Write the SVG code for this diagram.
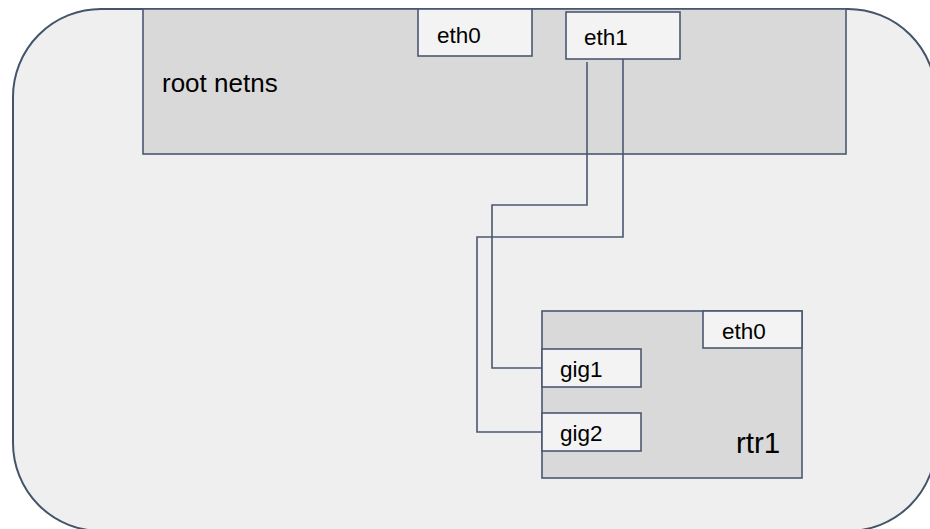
<svg xmlns="http://www.w3.org/2000/svg" width="930" height="529" viewBox="0 0 930 529">
<style>
.box{stroke:#4a5870;stroke-width:1.6}
.ns{fill:#d9d9d9}
.port{fill:#f3f3f3}
.wire{fill:none;stroke:#4a5870;stroke-width:1.6}
text{font-family:"Liberation Sans",Arial,sans-serif;fill:#000}
.lbl{font-size:22.5px}
</style>
<rect width="930" height="529" fill="#ffffff"/>
<g id="host">
<rect x="13" y="9" width="923" height="522" rx="88" ry="88" fill="#efefef" stroke="#44546a" stroke-width="2"/>
</g>
<g id="root-netns">
<rect class="box ns" x="143" y="9" width="703" height="145"/>
<text x="162" y="92" font-size="26">root netns</text>
</g>
<g id="root-eth0">
<rect class="box port" x="418" y="9" width="114" height="47"/>
<text class="lbl" x="437" y="43">eth0</text>
</g>
<g id="root-eth1">
<rect class="box port" x="566" y="12" width="114" height="47"/>
<text class="lbl" x="584" y="45">eth1</text>
</g>
<g id="rtr1">
<rect class="box ns" x="542" y="311" width="260" height="167"/>
<text x="736" y="453" font-size="29.5">rtr1</text>
</g>
<g id="rtr1-eth0">
<rect class="box port" x="703" y="311" width="99" height="37"/>
<text class="lbl" x="722" y="339">eth0</text>
</g>
<g id="rtr1-gig1">
<rect class="box port" x="542" y="349" width="99" height="38"/>
<text class="lbl" x="560" y="377">gig1</text>
</g>
<g id="rtr1-gig2">
<rect class="box port" x="542" y="413" width="99" height="38"/>
<text class="lbl" x="560" y="441">gig2</text>
</g>
<g id="connectors">
<path class="wire" d="M587 62 V205 H492 V368 H542"/>
<path class="wire" d="M623 59 V237 H477 V432 H542"/>
</g>
</svg>
